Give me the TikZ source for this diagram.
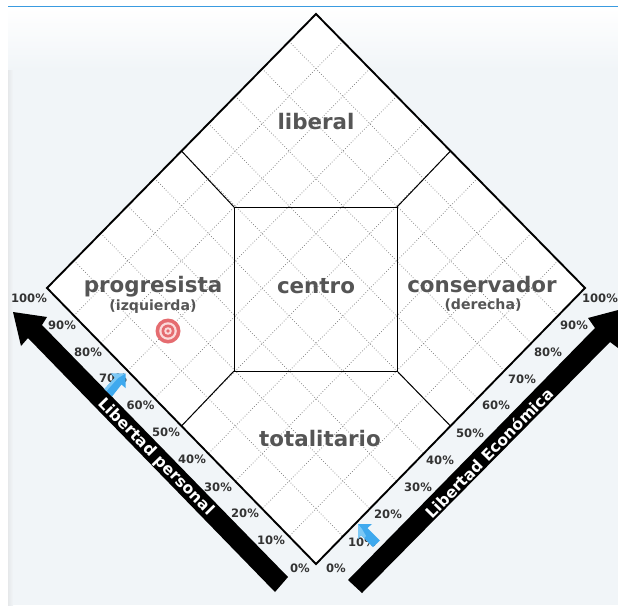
\documentclass[tikz,border=0pt]{standalone}
\usepackage{fontspec}
\setmainfont{DejaVu Sans}
\usetikzlibrary{calc}
\definecolor{pagebg}{HTML}{F1F5F8}
\definecolor{pageedge}{HTML}{E6E8EA}
\definecolor{toplineblue}{HTML}{3A9BE0}
\definecolor{regiontext}{HTML}{555555}
\definecolor{pcttext}{HTML}{333333}
\definecolor{griddot}{HTML}{777777}
\definecolor{iconblue}{HTML}{3FA9EE}
\definecolor{iconlight}{HTML}{7CC8F5}
\definecolor{targetred}{HTML}{E56C70}
\definecolor{targetpale}{HTML}{FBDADA}
\tikzset{
  region/.style={font=\bfseries\fontsize{21.4}{21.4}\selectfont,text=regiontext,inner sep=0pt},
  subregion/.style={font=\bfseries\fontsize{14.1}{14.1}\selectfont,text=regiontext,inner sep=0pt},
  pct/.style={font=\bfseries\fontsize{11.6}{11.6}\selectfont,text=pcttext,inner sep=0pt},
  axislabel/.style={font=\bfseries\fontsize{15.7}{15.7}\selectfont,text=white,inner sep=0pt},
  gridline/.style={griddot,line width=0.7pt,dotted},
  frameline/.style={black,line width=1.9pt,line join=miter},
  innerline/.style={black,line width=1pt},
}
\begin{document}
\begin{tikzpicture}[x=1pt,y=-1pt]
\useasboundingbox (0,0) rectangle (618,605);
\fill[white] (0,0) rectangle (618,605);
% page background
\fill[pagebg] (8,70) rectangle (618,605);
\shade[top color=white,bottom color=pagebg] (8,7) rectangle (618,70);
\shade[left color=pageedge,right color=pagebg] (8,70) rectangle (13,605);
\draw[toplineblue,line width=1pt] (8,6.5) -- (618,6.5);
% corners
\coordinate (T) at (316,14);
\coordinate (L) at (47,288);
\coordinate (B) at (316,564);
\coordinate (R) at (585,288);
\fill[white] (T) -- (R) -- (B) -- (L) -- cycle;
% dotted grid
\foreach \f in {0.1,0.2,...,0.95}{
  \draw[gridline] ($(T)!\f!(L)$) -- ($(R)!\f!(B)$);
  \draw[gridline] ($(T)!\f!(R)$) -- ($(L)!\f!(B)$);
}
% regions
\coordinate (q1) at (234,207);
\coordinate (q2) at (397,207);
\coordinate (q3) at (397,371);
\coordinate (q4) at (234,371);
\draw[innerline] (q1) -- (q2) -- (q3) -- (q4) -- cycle;
\draw[innerline] (q1) -- ($(T)!0.5!(L)$);
\draw[innerline] (q2) -- ($(T)!0.5!(R)$);
\draw[innerline] (q3) -- ($(B)!0.5!(R)$);
\draw[innerline] (q4) -- ($(B)!0.5!(L)$);
\draw[frameline] (T) -- (R) -- (B) -- (L) -- cycle;
% region labels
\node[region] (liberal) at (316,122) {liberal};
\node[region] (centro) at (316,286) {centro};
\node[region] (prog) at (153,287) {progresista};
\node[subregion] (izq) at (153,307) {(izquierda)};
\node[region] (cons) at (482,285) {conservador};
\node[subregion] (der) at (483,305) {(derecha)};
\node[region] (tot) at (320,439) {totalitario};
% big arrows
\fill[black] (288,577) -- (275,592) -- (28,338) -- (21,346) -- (13,312) -- (47,317) -- (42,325) -- cycle;
\fill[black] (348,580) -- (362,593) -- (610,342) -- (618,348) -- (622,309) -- (588,318) -- (595,328) -- cycle;
\node[axislabel,rotate=-45.5] (lp) at (156,457) {Libertad personal};
\node[axislabel,rotate=45.5] (le) at (489,453) {Libertad Económica};
% percentages
\foreach \t/\x/\y in {100/29/298,90/62/325,80/88/352,70/113/378,60/140.5/405,50/166/432,40/192/459,30/218/487,20/245/513,10/271/540,0/300/568,
  100/600/298,90/574/325,80/548/352,70/522/379,60/496/405,50/470/433,40/440/460,30/418/487,20/388/514,10/362/542,0/336/568}{
  \node[pct] at (\x,\y) {\t\%};
}
% target
\fill[targetred] (168,331) circle (12.5);
\fill[targetpale] (168,331) circle (8.8);
\fill[targetred] (168,331) circle (6.5);
\fill[targetpale] (168,331) circle (3.8);
\fill[targetred] (168,331) circle (1.8);
% blue marker arrows
\fill[iconblue] (125.5,373.5) -- (125.5,388) -- (121.5,384.5) -- (112,396.5) -- (104.5,389) -- (115,377.5) -- (111,373.5) -- cycle;
\fill[iconlight] (125.5,373.5) -- (111,373.5) -- (115,377.5) -- (104.5,389) -- (106.5,391) -- (118,378) -- cycle;
\fill[iconblue] (358,524) -- (372,524) -- (367.5,528) -- (380,540.5) -- (373,547) -- (361,535) -- (358,539) -- cycle;
\fill[iconlight] (358,524) -- (358,539) -- (361,535) -- (364,538) -- (366,536) -- (362,529) -- cycle;
\end{tikzpicture}
\end{document}
